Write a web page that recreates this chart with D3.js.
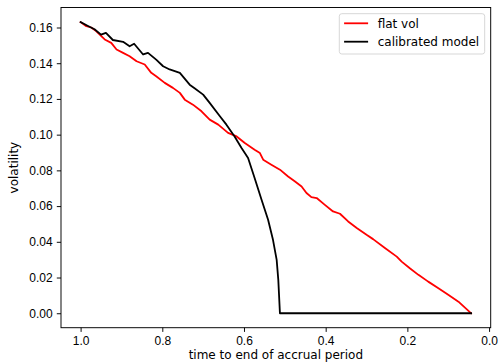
<!DOCTYPE html>
<html>
<head>
<meta charset="utf-8">
<script src="https://cdn.jsdelivr.net/npm/d3@7"></script>
<style>
  body { margin: 0; background: #fff; }
  svg { display: block; font-family: "DejaVu Sans", sans-serif; }
  .tick text { font-size: 12px; fill: #000; }
</style>
</head>
<body>
<svg id="chart" width="499" height="364"></svg>
<script>
// time to end of accrual period (reversed axis) and vols
const flatTimes = [1.000, 0.986, 0.974, 0.962, 0.941, 0.925, 0.912, 0.896, 0.880, 0.863,
  0.843, 0.827, 0.815, 0.794, 0.774, 0.757, 0.745, 0.725, 0.704, 0.684,
  0.663, 0.639, 0.618, 0.598, 0.574, 0.561, 0.553, 0.533, 0.512, 0.492,
  0.475, 0.459, 0.447, 0.435, 0.422, 0.402, 0.382, 0.365, 0.345, 0.324,
  0.300, 0.284, 0.255, 0.226, 0.214, 0.194, 0.173, 0.149, 0.124, 0.100,
  0.075, 0.044];
const flatVols = [0.1630, 0.1607, 0.1600, 0.1580, 0.1533, 0.1514, 0.1477, 0.1458, 0.1439, 0.1411,
  0.1393, 0.1346, 0.1327, 0.1290, 0.1262, 0.1234, 0.1196, 0.1168, 0.1131, 0.1084,
  0.1056, 0.1010, 0.0990, 0.0953, 0.0916, 0.0897, 0.0860, 0.0832, 0.0804, 0.0766,
  0.0738, 0.0710, 0.0673, 0.0650, 0.0645, 0.0607, 0.0570, 0.0557, 0.0514, 0.0477,
  0.0439, 0.0415, 0.0365, 0.0317, 0.0289, 0.0252, 0.0215, 0.0177, 0.0140, 0.0103,
  0.0065, 0.0000];

const calTimes = [1.000, 0.983, 0.966, 0.950, 0.938, 0.921, 0.896, 0.880, 0.869, 0.847,
  0.835, 0.815, 0.798, 0.782, 0.757, 0.733, 0.721, 0.700, 0.684, 0.659,
  0.643, 0.623, 0.606, 0.590, 0.574, 0.557, 0.541, 0.529, 0.520, 0.516,
  0.512, 0.044];
const calVols = [0.1630, 0.1610, 0.1590, 0.1560, 0.1570, 0.1530, 0.1520, 0.1495, 0.1509, 0.1449,
  0.1458, 0.1420, 0.1383, 0.1365, 0.1346, 0.1280, 0.1260, 0.1224, 0.1178, 0.1103,
  0.1056, 0.0990, 0.0925, 0.0869, 0.0757, 0.0635, 0.0523, 0.0411, 0.0299, 0.0187,
  0.0000, 0.0000];

const xTicks = [1.0, 0.8, 0.6, 0.4, 0.2, 0.0];
const yTicks = [0.00, 0.02, 0.04, 0.06, 0.08, 0.10, 0.12, 0.14, 0.16];

const series = [
  { name: 'flat vol', color: 'red', times: flatTimes, vols: flatVols },
  { name: 'calibrated model', color: 'black', times: calTimes, vols: calVols },
];

const margin = { left: 61, right: 8.3, top: 7.5, bottom: 36.3 };
const width = 499, height = 364;

const svg = d3.select('#chart');

const x = d3.scaleLinear()
  .domain([1.048, -0.004])
  .range([margin.left, width - margin.right]);
const y = d3.scaleLinear()
  .domain([-0.0081, 0.1712])
  .range([height - margin.bottom, margin.top]);

// axes
const xAxis = svg.append('g')
  .attr('transform', `translate(0,${height - margin.bottom})`)
  .call(d3.axisBottom(x).tickValues(xTicks).tickFormat(d3.format('.1f'))
    .tickSize(4.2).tickPadding(4.2).tickSizeOuter(0));
const yAxis = svg.append('g')
  .attr('transform', `translate(${margin.left},0)`)
  .call(d3.axisLeft(y).tickValues(yTicks).tickFormat(d3.format('.2f'))
    .tickSize(4.2).tickPadding(4.2).tickSizeOuter(0));
[xAxis, yAxis].forEach(a => {
  a.select('.domain').remove();
  a.selectAll('.tick line').attr('stroke', '#000').attr('stroke-width', 0.96);
});

// lines
const line = d3.line()
  .x(d => x(d[0]))
  .y(d => y(d[1]));

svg.append('g')
  .selectAll('path')
  .data(series)
  .join('path')
  .attr('fill', 'none')
  .attr('stroke', d => d.color)
  .attr('stroke-width', 1.8)
  .attr('stroke-linejoin', 'round')
  .attr('stroke-linecap', 'square')
  .attr('d', d => line(d3.zip(d.times, d.vols)));

// frame
svg.append('rect')
  .attr('x', margin.left)
  .attr('y', margin.top)
  .attr('width', width - margin.left - margin.right)
  .attr('height', height - margin.top - margin.bottom)
  .attr('fill', 'none')
  .attr('stroke', '#000')
  .attr('stroke-width', 0.96);

// axis labels
svg.append('text')
  .attr('x', (margin.left + width - margin.right) / 2)
  .attr('y', 359)
  .attr('text-anchor', 'middle')
  .attr('font-size', 12)
  .text('time to end of accrual period');

svg.append('text')
  .attr('transform', `translate(18.3,${(margin.top + height - margin.bottom) / 2}) rotate(-90)`)
  .attr('text-anchor', 'middle')
  .attr('font-size', 12)
  .text('volatility');

// legend
const legend = svg.append('g').attr('transform', 'translate(339.3,13.7)');
legend.append('rect')
  .attr('width', 145.4)
  .attr('height', 40.3)
  .attr('rx', 2.5)
  .attr('fill', 'rgba(255,255,255,0.8)')
  .attr('stroke', '#d5d5d5')
  .attr('stroke-width', 0.96);

const items = legend.selectAll('g.item')
  .data(series)
  .join('g')
  .attr('class', 'item')
  .attr('transform', (d, i) => `translate(0,${9.6 + i * 18.4})`);
items.append('line')
  .attr('x1', 4.8).attr('x2', 28.8)
  .attr('stroke', d => d.color)
  .attr('stroke-width', 1.8);
items.append('text')
  .attr('x', 38.4)
  .attr('dy', '0.35em')
  .attr('font-size', 12)
  .text(d => d.name);
</script>
</body>
</html>
